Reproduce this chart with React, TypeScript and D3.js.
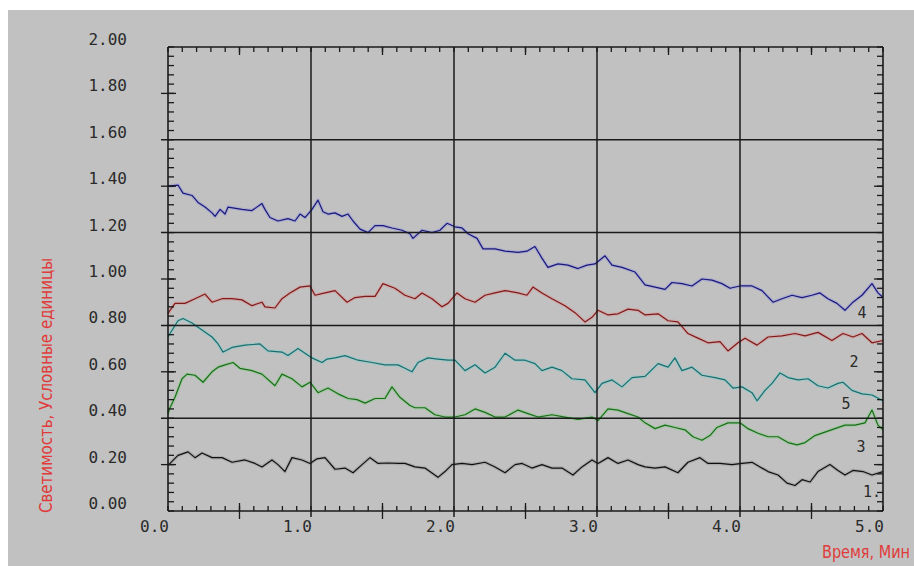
import React from "react";
import * as d3 from "d3";

// ---------- data ----------
const yTickValues = [0, 0.2, 0.4, 0.6, 0.8, 1.0, 1.2, 1.4, 1.6, 1.8, 2.0];
const xTickValues = [0, 1, 2, 3, 4, 5];
const gridYValues = [0.4, 0.8, 1.2, 1.6];
const gridXValues = [1, 2, 3, 4];
const xTitle = "Время, Мин";
const yTitle = "Светимость, Условные единицы";

// series 4 (blue)
const time4 = [0.0, 0.07, 0.105, 0.168, 0.21, 0.259, 0.308, 0.329, 0.364, 0.399, 0.42, 0.517, 0.587, 0.657, 0.678, 0.713, 0.769, 0.839, 0.888, 0.923, 0.958, 1.007, 1.049, 1.084, 1.119, 1.168, 1.217, 1.259, 1.294, 1.343, 1.399, 1.448, 1.503, 1.566, 1.636, 1.692, 1.713, 1.776, 1.846, 1.902, 1.951, 2.007, 2.056, 2.098, 2.161, 2.203, 2.287, 2.357, 2.448, 2.51, 2.566, 2.615, 2.657, 2.727, 2.797, 2.867, 2.93, 2.986, 3.056, 3.105, 3.175, 3.266, 3.336, 3.406, 3.476, 3.524, 3.594, 3.664, 3.734, 3.804, 3.874, 3.93, 4.0, 4.084, 4.154, 4.231, 4.294, 4.364, 4.434, 4.503, 4.559, 4.615, 4.678, 4.734, 4.79, 4.853, 4.923, 4.965, 5.0];
const value4 = [1.40, 1.405, 1.37, 1.36, 1.33, 1.31, 1.285, 1.27, 1.30, 1.28, 1.31, 1.30, 1.295, 1.325, 1.30, 1.265, 1.25, 1.26, 1.25, 1.28, 1.265, 1.30, 1.34, 1.29, 1.28, 1.285, 1.27, 1.28, 1.25, 1.215, 1.20, 1.23, 1.23, 1.22, 1.21, 1.195, 1.175, 1.21, 1.20, 1.21, 1.24, 1.225, 1.22, 1.195, 1.175, 1.13, 1.13, 1.12, 1.115, 1.12, 1.14, 1.09, 1.05, 1.065, 1.06, 1.045, 1.06, 1.065, 1.10, 1.06, 1.05, 1.03, 0.975, 0.965, 0.955, 0.985, 0.98, 0.97, 1.0, 0.995, 0.98, 0.96, 0.97, 0.97, 0.95, 0.90, 0.915, 0.93, 0.92, 0.93, 0.94, 0.915, 0.895, 0.865, 0.90, 0.93, 0.98, 0.94, 0.92];

// series 2 (red)
const time2 = [0.0, 0.014, 0.049, 0.119, 0.189, 0.259, 0.308, 0.378, 0.448, 0.517, 0.587, 0.657, 0.678, 0.748, 0.797, 0.853, 0.923, 0.993, 1.028, 1.098, 1.168, 1.252, 1.308, 1.378, 1.448, 1.503, 1.587, 1.657, 1.727, 1.776, 1.846, 1.916, 1.958, 2.021, 2.077, 2.147, 2.217, 2.287, 2.357, 2.448, 2.51, 2.552, 2.615, 2.685, 2.776, 2.846, 2.916, 2.965, 3.007, 3.077, 3.147, 3.217, 3.287, 3.336, 3.427, 3.497, 3.566, 3.636, 3.706, 3.776, 3.86, 3.916, 3.986, 4.035, 4.119, 4.196, 4.294, 4.385, 4.455, 4.545, 4.643, 4.72, 4.79, 4.853, 4.923, 5.0];
const value2 = [0.85, 0.865, 0.895, 0.895, 0.915, 0.935, 0.90, 0.915, 0.915, 0.91, 0.885, 0.90, 0.88, 0.875, 0.915, 0.94, 0.965, 0.97, 0.93, 0.94, 0.95, 0.90, 0.92, 0.925, 0.925, 0.98, 0.96, 0.93, 0.915, 0.94, 0.915, 0.88, 0.895, 0.94, 0.915, 0.90, 0.93, 0.94, 0.95, 0.94, 0.93, 0.965, 0.94, 0.915, 0.885, 0.855, 0.815, 0.835, 0.865, 0.845, 0.85, 0.87, 0.865, 0.845, 0.85, 0.82, 0.815, 0.765, 0.745, 0.725, 0.73, 0.69, 0.725, 0.745, 0.715, 0.75, 0.755, 0.765, 0.755, 0.77, 0.735, 0.765, 0.75, 0.765, 0.725, 0.735];

// series 5 (teal)
const time5 = [0.0, 0.014, 0.07, 0.105, 0.168, 0.238, 0.308, 0.35, 0.385, 0.448, 0.538, 0.643, 0.699, 0.797, 0.839, 0.909, 1.007, 1.077, 1.112, 1.168, 1.238, 1.329, 1.427, 1.517, 1.608, 1.657, 1.706, 1.748, 1.818, 1.888, 1.958, 2.007, 2.077, 2.147, 2.217, 2.287, 2.357, 2.427, 2.497, 2.566, 2.615, 2.685, 2.755, 2.825, 2.916, 2.986, 3.035, 3.105, 3.175, 3.245, 3.336, 3.427, 3.497, 3.545, 3.594, 3.664, 3.734, 3.825, 3.895, 3.951, 4.014, 4.084, 4.119, 4.175, 4.224, 4.28, 4.336, 4.406, 4.476, 4.545, 4.615, 4.685, 4.72, 4.783, 4.853, 4.923, 5.0];
const value5 = [0.75, 0.765, 0.82, 0.83, 0.81, 0.78, 0.75, 0.72, 0.685, 0.705, 0.715, 0.72, 0.69, 0.685, 0.67, 0.70, 0.66, 0.64, 0.655, 0.66, 0.67, 0.65, 0.64, 0.63, 0.63, 0.615, 0.60, 0.64, 0.66, 0.655, 0.65, 0.65, 0.605, 0.63, 0.595, 0.62, 0.68, 0.65, 0.65, 0.635, 0.605, 0.62, 0.605, 0.57, 0.565, 0.51, 0.55, 0.565, 0.535, 0.575, 0.58, 0.635, 0.62, 0.66, 0.605, 0.62, 0.585, 0.575, 0.565, 0.53, 0.535, 0.51, 0.475, 0.52, 0.55, 0.595, 0.575, 0.565, 0.57, 0.54, 0.53, 0.55, 0.555, 0.52, 0.505, 0.50, 0.475];

// series 3 (green)
const time3 = [0.0, 0.014, 0.049, 0.098, 0.133, 0.189, 0.245, 0.308, 0.35, 0.399, 0.455, 0.503, 0.587, 0.657, 0.748, 0.797, 0.867, 0.937, 0.993, 1.049, 1.119, 1.189, 1.259, 1.322, 1.378, 1.448, 1.517, 1.566, 1.622, 1.692, 1.727, 1.797, 1.867, 1.937, 2.007, 2.077, 2.147, 2.217, 2.287, 2.357, 2.448, 2.517, 2.587, 2.685, 2.776, 2.867, 2.965, 3.007, 3.077, 3.147, 3.217, 3.287, 3.336, 3.406, 3.476, 3.545, 3.615, 3.671, 3.734, 3.79, 3.839, 3.916, 4.0, 4.056, 4.126, 4.196, 4.266, 4.336, 4.399, 4.455, 4.524, 4.594, 4.664, 4.734, 4.804, 4.874, 4.923, 4.965, 5.0];
const value3 = [0.42, 0.445, 0.49, 0.57, 0.59, 0.585, 0.555, 0.60, 0.62, 0.63, 0.64, 0.615, 0.605, 0.59, 0.54, 0.59, 0.57, 0.535, 0.555, 0.51, 0.53, 0.505, 0.485, 0.48, 0.465, 0.485, 0.485, 0.535, 0.49, 0.455, 0.445, 0.445, 0.415, 0.405, 0.405, 0.415, 0.44, 0.425, 0.405, 0.405, 0.435, 0.42, 0.405, 0.415, 0.405, 0.395, 0.405, 0.39, 0.44, 0.435, 0.42, 0.405, 0.38, 0.355, 0.37, 0.36, 0.35, 0.32, 0.305, 0.325, 0.36, 0.38, 0.38, 0.355, 0.335, 0.32, 0.32, 0.295, 0.285, 0.295, 0.325, 0.34, 0.355, 0.37, 0.37, 0.38, 0.435, 0.37, 0.35];

// series 1 (black)
const time1 = [0.0, 0.014, 0.07, 0.14, 0.189, 0.238, 0.308, 0.378, 0.448, 0.538, 0.608, 0.657, 0.727, 0.769, 0.818, 0.867, 0.937, 0.993, 1.042, 1.098, 1.168, 1.238, 1.294, 1.357, 1.413, 1.469, 1.538, 1.608, 1.657, 1.727, 1.797, 1.888, 1.937, 1.986, 2.056, 2.126, 2.217, 2.287, 2.357, 2.427, 2.476, 2.545, 2.615, 2.685, 2.755, 2.832, 2.895, 2.965, 3.007, 3.077, 3.147, 3.217, 3.287, 3.336, 3.406, 3.476, 3.566, 3.636, 3.72, 3.776, 3.86, 3.944, 4.014, 4.084, 4.14, 4.196, 4.266, 4.329, 4.385, 4.434, 4.49, 4.545, 4.629, 4.685, 4.734, 4.79, 4.86, 4.923, 5.0];
const value1 = [0.20, 0.205, 0.24, 0.255, 0.23, 0.25, 0.23, 0.23, 0.21, 0.22, 0.205, 0.19, 0.22, 0.20, 0.17, 0.23, 0.22, 0.205, 0.225, 0.23, 0.18, 0.185, 0.165, 0.20, 0.23, 0.205, 0.207, 0.205, 0.205, 0.19, 0.185, 0.145, 0.17, 0.20, 0.205, 0.20, 0.21, 0.19, 0.165, 0.20, 0.205, 0.185, 0.20, 0.185, 0.185, 0.155, 0.19, 0.22, 0.205, 0.23, 0.205, 0.22, 0.20, 0.19, 0.185, 0.19, 0.165, 0.21, 0.23, 0.205, 0.205, 0.20, 0.205, 0.21, 0.19, 0.17, 0.155, 0.12, 0.11, 0.135, 0.125, 0.17, 0.20, 0.175, 0.155, 0.175, 0.17, 0.155, 0.17];

const seriesNames = ["4", "2", "5", "3", "1."];
const labelTimes = [4.853, 4.797, 4.741, 4.846, 4.86];
const labelValues = [0.83, 0.62, 0.439, 0.254, 0.06];

// ---------- styles ----------
const seriesStyles = [
  { line: "#18187a", halo: "#8c8ce0" },
  { line: "#7e1a1a", halo: "#e08a8a" },
  { line: "#1a6e6e", halo: "#78cccc" },
  { line: "#1a6e1a", halo: "#78cc78" },
  { line: "#101010", halo: "#8a8a8a" },
];

const W = 914;
const H = 566;
const BG = "#c1c1c1";
const INK = "#1a1a1a";
const MONO = "'DejaVu Sans Mono', 'Liberation Mono', monospace";
const SANS = "'Liberation Sans Narrow', 'DejaVu Sans Condensed', 'Liberation Sans', Arial, sans-serif";

export default function App() {
  const x = d3.scaleLinear().domain([0, 5]).range([168, 883]);
  const y = d3.scaleLinear().domain([0, 2]).range([511, 47]);

  const data = [
    d3.zip(time4, value4),
    d3.zip(time2, value2),
    d3.zip(time5, value5),
    d3.zip(time3, value3),
    d3.zip(time1, value1),
  ];

  const line = d3
    .line<number[]>()
    .x((d) => x(d[0]))
    .y((d) => y(d[1]));

  const minorY = d3.range(0, 2.0001, 0.04);
  const minorX = d3.range(0, 5.0001, 0.1);
  const halfX = d3.range(0.5, 5, 1);
  const majorYNoGrid = yTickValues.filter(
    (v) => !gridYValues.some((g) => Math.abs(g - v) < 1e-6) && v > 0 && v < 2
  );

  const fy = d3.format(".2f");
  const fx = d3.format(".1f");

  return (
    <svg
      width={W}
      height={H}
      style={{ position: "absolute", left: 0, top: 0, display: "block" }}
    >
      <rect x={0} y={0} width={W} height={H} fill="#ffffff" />
      <rect x={8} y={10} width={W - 8} height={H - 10} fill={BG} />

      {/* lines */}
      <g fill="none" strokeLinejoin="round">
        {data.map((d, i) => (
          <path key={"h" + i} d={line(d as any) || ""} stroke={seriesStyles[i].halo} strokeWidth={3.5} opacity={0.4} />
        ))}
        {data.map((d, i) => (
          <path key={"l" + i} d={line(d as any) || ""} stroke={seriesStyles[i].line} strokeWidth={1.2} />
        ))}
      </g>

      {/* grid lines */}
      <g stroke={INK} strokeWidth={1.5}>
        {gridYValues.map((v) => (
          <line key={"gy" + v} x1={161} x2={x(5)} y1={y(v)} y2={y(v)} />
        ))}
        {gridXValues.map((v) => (
          <line key={"gx" + v} x1={x(v)} x2={x(v)} y1={y(2)} y2={y(0) + 6} />
        ))}
      </g>

      {/* frame */}
      <g stroke={INK} strokeWidth={1.6} fill="none">
        <line x1={x(0)} x2={x(5)} y1={y(2)} y2={y(2)} />
        <line x1={x(0)} x2={x(5)} y1={y(0)} y2={y(0)} />
        <line x1={x(0)} x2={x(0)} y1={y(2)} y2={y(0)} />
        <line x1={x(5)} x2={x(5)} y1={y(2)} y2={y(0)} />
      </g>

      {/* ticks */}
      <g stroke={INK} strokeWidth={1.3}>
        {minorY.map((v, i) => (
          <React.Fragment key={"my" + i}>
            <line x1={x(0)} x2={x(0) + 6} y1={y(v)} y2={y(v)} />
            <line x1={x(5) - 6} x2={x(5)} y1={y(v)} y2={y(v)} />
          </React.Fragment>
        ))}
        {majorYNoGrid.map((v, i) => (
          <React.Fragment key={"My" + i}>
            <line x1={x(0) - 7} x2={x(0) + 8} y1={y(v)} y2={y(v)} />
            <line x1={x(5) - 9} x2={x(5)} y1={y(v)} y2={y(v)} />
          </React.Fragment>
        ))}
        {minorX.map((v, i) => (
          <React.Fragment key={"mx" + i}>
            <line x1={x(v)} x2={x(v)} y1={y(0)} y2={y(0) - 5} />
            <line x1={x(v)} x2={x(v)} y1={y(2)} y2={y(2) + 5} />
          </React.Fragment>
        ))}
        {halfX.map((v, i) => (
          <React.Fragment key={"hx" + i}>
            <line x1={x(v)} x2={x(v)} y1={y(0) - 8} y2={y(0) + 8} />
            <line x1={x(v)} x2={x(v)} y1={y(2)} y2={y(2) + 8} />
          </React.Fragment>
        ))}
      </g>

      {/* tick labels */}
      <g fill="#2a2a2a" fontFamily={MONO} fontSize={16}>
        {yTickValues.map((v) => (
          <text key={"ty" + v} x={127} y={y(v) - 2} textAnchor="end">
            {fy(v)}
          </text>
        ))}
        {xTickValues.map((v) => (
          <text key={"tx" + v} x={x(v) + 1} y={y(0) + 21} textAnchor="end">
            {fx(v)}
          </text>
        ))}
      </g>

      {/* series labels */}
      <g fill="#2a2a2a" fontFamily={MONO} fontSize={15}>
        {seriesNames.map((n, i) => (
          <text key={"sl" + i} x={x(labelTimes[i])} y={y(labelValues[i])} textAnchor={i === 4 ? "start" : "middle"}>
            {n}
          </text>
        ))}
      </g>

      {/* axis titles */}
      <text
        x={910}
        y={558}
        textAnchor="end"
        fill="#e03a3a"
        fontFamily={SANS}
        fontSize={17}
        textLength={88}
        lengthAdjust="spacingAndGlyphs"
      >
        {xTitle}
      </text>
      <text
        transform="translate(52,513) rotate(-90)"
        x={0}
        y={0}
        textAnchor="start"
        fill="#e03a3a"
        fontFamily={SANS}
        fontSize={18}
        textLength={255}
        lengthAdjust="spacingAndGlyphs"
      >
        {yTitle}
      </text>
    </svg>
  );
}
